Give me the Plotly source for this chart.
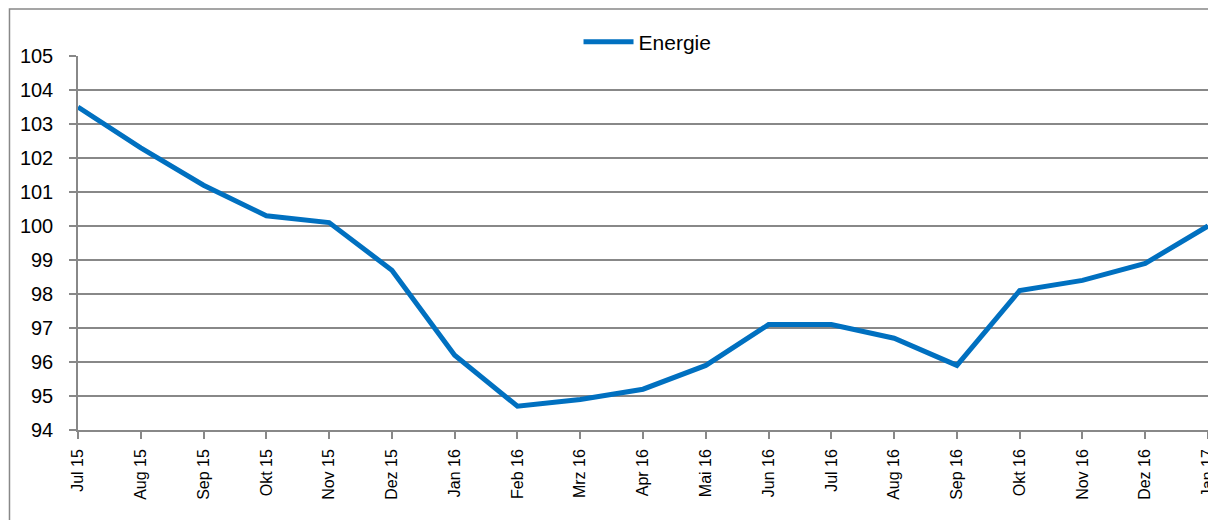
import plotly.graph_objects as go

months = ["Jul 15", "Aug 15", "Sep 15", "Okt 15", "Nov 15", "Dez 15", "Jan 16", "Feb 16",
          "Mrz 16", "Apr 16", "Mai 16", "Jun 16", "Jul 16", "Aug 16", "Sep 16", "Okt 16",
          "Nov 16", "Dez 16", "Jan 17"]
energie = [103.5, 102.3, 101.2, 100.3, 100.1, 98.7, 96.2, 94.7,
           94.9, 95.2, 95.9, 97.1, 97.1, 96.7, 95.9, 98.1,
           98.4, 98.9, 100.0]
y_ticks = list(range(94, 106))

GRAY = "#888888"
FONT = "Liberation Sans"

PW = 1138  # plot width in px
PH = 374

fig = go.Figure()
fig.add_trace(go.Scatter(x=months, y=energie, mode="lines", name="Energie",
                         line=dict(color="#0070C0", width=5)))

fig.update_layout(
    width=1208, height=512,
    margin=dict(l=70, r=0, t=48, b=90),
    paper_bgcolor="white", plot_bgcolor="white",
    showlegend=True,
    legend=dict(x=0.504, y=1.037, xanchor="center", yanchor="middle", orientation="h",
                font=dict(family=FONT, size=21, color="#000000"), bgcolor="rgba(0,0,0,0)",
                itemwidth=50),
    xaxis=dict(type="category", range=[0, len(months) - 1], showgrid=False,
               showline=True, linecolor=GRAY, linewidth=1.5,
               ticks="outside", ticklen=7, tickcolor=GRAY, tickwidth=1.5,
               tickangle=-90, tickfont=dict(family=FONT, size=16, color="#000000"),
               ticklabelstandoff=4),
    yaxis=dict(range=[94, 105], tickvals=y_ticks, showgrid=True, gridcolor=GRAY, gridwidth=1.5,
               showline=True, linecolor=GRAY, linewidth=1.5,
               ticks="outside", ticklen=7, tickcolor=GRAY, tickwidth=1.5,
               tickfont=dict(family=FONT, size=20, color="#000000"),
               ticklabelstandoff=12, zeroline=False),
)

fig.add_shape(type="rect", xref="paper", yref="paper",
              x0=(1 - 70) / PW, x1=(1230 - 70) / PW,
              y0=(422 - 530) / PH, y1=(422 - 1) / PH,
              line=dict(color=GRAY, width=1.5), fillcolor="rgba(0,0,0,0)", layer="below")

fig.write_html("out.html")
